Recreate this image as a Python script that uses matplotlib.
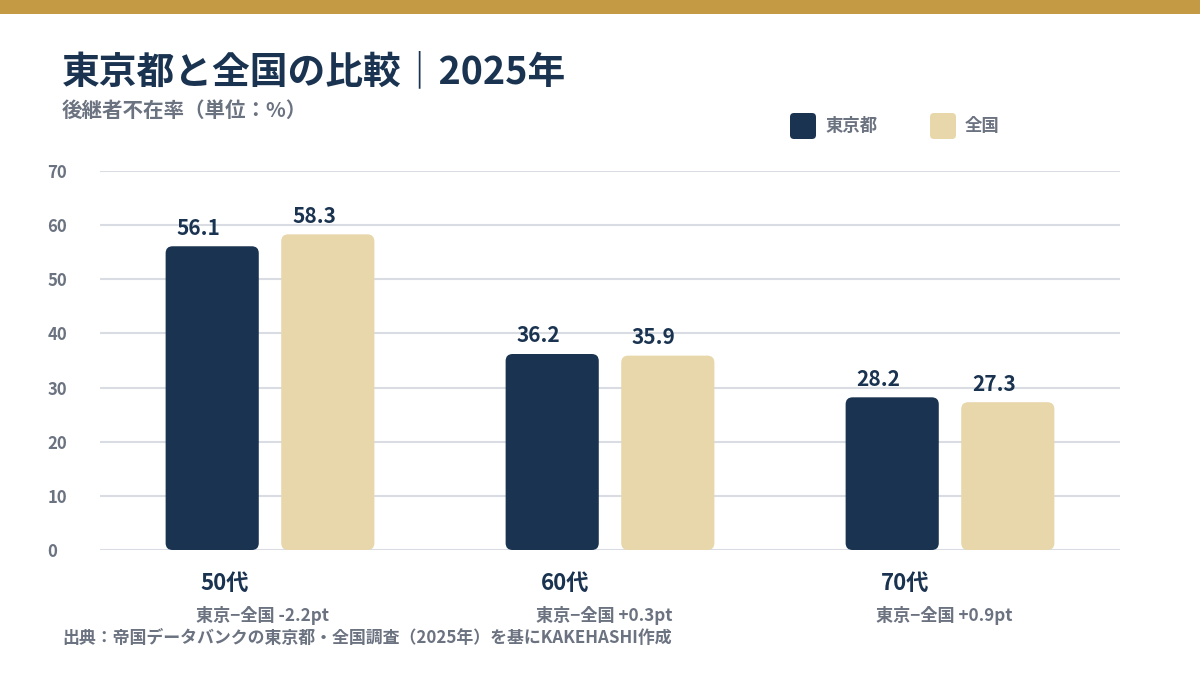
import numpy as np
import matplotlib
matplotlib.use("Agg")
import matplotlib.pyplot as plt
from matplotlib.patches import FancyBboxPatch, Rectangle

plt.rcParams['font.family'] = ['Noto Sans CJK JP', 'DejaVu Sans']

# data
ages = ["50代", "60代", "70代"]
tokyo = [56.1, 36.2, 28.2]
national = [58.3, 35.9, 27.3]
series_names = ["東京都", "全国"]
y_ticks = [0, 10, 20, 30, 40, 50, 60, 70]

NAVY = "#1A3350"
BEIGE = "#E8D7AA"
GOLD = "#C49A45"
GRAY = "#6B7280"
GRID = "#D9DDE3"

W, H = 1200, 675
fig = plt.figure(figsize=(12, 6.75), dpi=100)
fig.patch.set_facecolor("white")


def fx(px):
    return px / W


def fy(py):
    return 1 - py / H


# top gold band
fig.add_artist(Rectangle((0, fy(14)), 1, 14 / H, transform=fig.transFigure,
                         facecolor=GOLD, edgecolor="none"))

ax = fig.add_axes([fx(100), fy(550), fx(1120) - fx(100), fy(171) - fy(550)])
ax.set_xlim(-0.5, 2.5)
ax.set_ylim(0, 70)
for s in ax.spines.values():
    s.set_visible(False)
ax.set_xticks([])
ax.set_yticks(y_ticks)
ax.yaxis.grid(True, color=GRID, lw=1.5)
ax.set_axisbelow(True)
ax.tick_params(axis="y", length=0, pad=38, labelsize=12, labelcolor=GRAY)
for lab in ax.get_yticklabels():
    lab.set_fontweight("bold")
    lab.set_horizontalalignment("left")

x = np.arange(len(ages))
width = 0.274
offset = 0.17

# aspect for rounded corners: px per x unit / px per y unit
px_x = (1120 - 100) / 3.0
px_y = (550 - 171) / 70.0
aspect = px_x / px_y
rad = 7 / px_x

for vals, sign, color in [(tokyo, -1, NAVY), (national, 1, BEIGE)]:
    bars = ax.bar(x + sign * offset, vals, width, color=color)
    for b, v in zip(bars, vals):
        b.set_visible(False)
        ax.add_patch(FancyBboxPatch((b.get_x(), 0), b.get_width(), b.get_height(),
                                    boxstyle=f"round,pad=0,rounding_size={rad}",
                                    mutation_aspect=aspect,
                                    facecolor=color, edgecolor="none"))
        ax.annotate(f"{v:.1f}", (b.get_x() + b.get_width() / 2, v),
                    xytext=(-10, 13), textcoords="offset points",
                    ha="center", va="center", fontsize=15,
                    fontweight="bold", color=NAVY)

for i, age in enumerate(ages):
    diff = tokyo[i] - national[i]
    ax.annotate(age, (x[i], 0), xytext=(-50, -24), textcoords="offset points",
                ha="left", va="center", fontsize=16, fontweight="bold",
                color=NAVY, annotation_clip=False)
    ax.annotate(f"東京−全国 {diff:+.1f}pt", (x[i], 0), xytext=(-53, -47),
                textcoords="offset points", ha="left", va="center",
                fontsize=12.3, fontweight="bold", color=GRAY,
                annotation_clip=False)

# title block
fig.text(fx(62), fy(72), "東京都と全国の比較｜2025年", fontsize=27.2,
         fontweight="bold", color=NAVY, ha="left", va="center")
fig.text(fx(62), fy(110), "後継者不在率（単位：%）", fontsize=14.8,
         fontweight="bold", color=GRAY, ha="left", va="center")

# legend
for (lx, name, color) in [(790, series_names[0], NAVY), (930, series_names[1], BEIGE)]:
    fig.add_artist(FancyBboxPatch((fx(lx), fy(139)), 26 / W, 26 / H,
                                  boxstyle=f"round,pad=0,rounding_size={4 / W}",
                                  mutation_aspect=W / H,
                                  transform=fig.transFigure,
                                  facecolor=color, edgecolor="none"))
    fig.text(fx(lx + 35), fy(126), name, fontsize=12.5, fontweight="bold",
             color=GRAY, ha="left", va="center")

fig.text(fx(62), fy(638), "出典：帝国データバンクの東京都・全国調査（2025年）を基にKAKEHASHI作成",
         fontsize=12.2, fontweight="bold", color=GRAY, ha="left", va="center")

fig.savefig("out.png", dpi=100, facecolor="white")
